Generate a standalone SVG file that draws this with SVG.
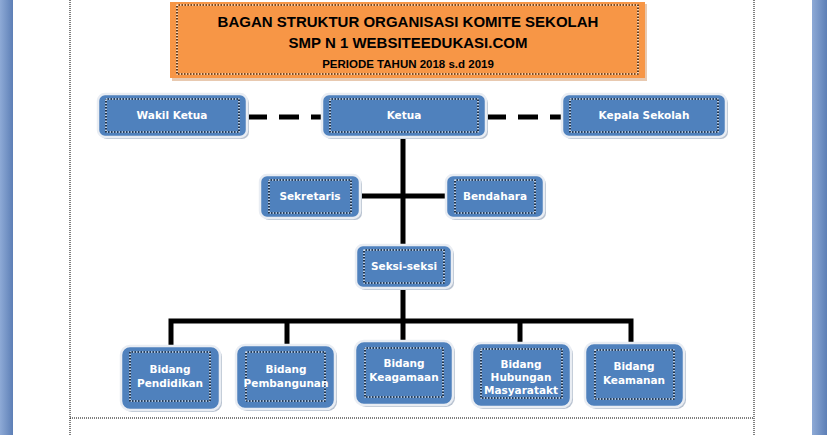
<svg xmlns="http://www.w3.org/2000/svg" width="827" height="435" viewBox="0 0 827 435">
<defs>
<linearGradient id="side" x1="0" x2="1" y1="0" y2="0"><stop offset="0" stop-color="#8eaad6"/><stop offset="1" stop-color="#5d7fb6"/></linearGradient>
</defs>
<style>
.n{fill:#4f81bd;stroke:#e9edf3;stroke-width:2.5}
.sh{fill:#b9c3d1}
.in{fill:none;stroke:#fff;stroke-width:1.2;stroke-dasharray:1.5 1.5}
.in2{fill:none;stroke:#000;stroke-width:1.2;stroke-dasharray:1.5 1.5;stroke-dashoffset:1.5}
.t{font-family:Verdana,"DejaVu Sans",sans-serif;font-weight:bold;font-size:10.5px;fill:#fff;text-anchor:middle}
.c{stroke:#000;stroke-width:5;fill:none}
.tt{font-family:"Liberation Sans",Arial,sans-serif;font-weight:bold;fill:#000;text-anchor:middle}
</style>
<rect width="827" height="435" fill="#fff"/>
<rect x="0" y="0" width="13" height="435" fill="url(#side)"/>
<rect x="812" y="0" width="15" height="435" fill="url(#side)"/>
<line x1="70" y1="0" x2="70" y2="435" stroke="#000" stroke-dasharray="1 1"/>
<line x1="754" y1="0" x2="754" y2="435" stroke="#000" stroke-dasharray="1 1"/>
<line x1="70" y1="418" x2="754" y2="418" stroke="#000" stroke-dasharray="1 1"/>
<g id="title">
<rect x="172" y="4" width="475" height="77" fill="#e8c9b0"/>
<rect x="170" y="2" width="475" height="76" fill="#f79646"/>
<rect x="177" y="5" width="461" height="69" class="in"/><rect x="177" y="5" width="461" height="69" class="in2"/>
<text x="408" y="27" class="tt" font-size="15">BAGAN STRUKTUR ORGANISASI KOMITE SEKOLAH</text>
<text x="408" y="48" class="tt" font-size="15">SMP N 1 WEBSITEEDUKASI.COM</text>
<text x="408" y="68" class="tt" font-size="11.5">PERIODE TAHUN 2018 s.d 2019</text>
</g>
<g id="connectors">
<path class="c" d="M247 117H322M486 117H562" stroke-dasharray="20 12"/>
<path class="c" d="M403 137V245M360 196H446M403 288V345M171 345V321H631V345M287 321V345M520 321V343"/>
</g>
<g id="wakil"><rect x="100" y="96" width="149" height="43" rx="7" class="sh"/><rect x="98" y="94" width="149" height="43" rx="7" class="n"/><rect x="106" y="99" width="133" height="33" class="in"/><rect x="106" y="99" width="133" height="33" class="in2"/><text x="172" y="119" class="t">Wakil Ketua</text></g>
<g id="ketua"><rect x="324" y="96" width="164" height="43" rx="7" class="sh"/><rect x="322" y="94" width="164" height="43" rx="7" class="n"/><rect x="330" y="99" width="148" height="33" class="in"/><rect x="330" y="99" width="148" height="33" class="in2"/><text x="404" y="119" class="t">Ketua</text></g>
<g id="kepala"><rect x="564" y="96" width="164" height="43" rx="7" class="sh"/><rect x="562" y="94" width="164" height="43" rx="7" class="n"/><rect x="570" y="99" width="148" height="33" class="in"/><rect x="570" y="99" width="148" height="33" class="in2"/><text x="644" y="119" class="t">Kepala Sekolah</text></g>
<g id="sekretaris"><rect x="262" y="177" width="100" height="43" rx="7" class="sh"/><rect x="260" y="175" width="100" height="43" rx="7" class="n"/><rect x="269" y="180" width="82" height="33" class="in"/><rect x="269" y="180" width="82" height="33" class="in2"/><text x="310" y="200" class="t">Sekretaris</text></g>
<g id="bendahara"><rect x="448" y="177" width="98" height="43" rx="7" class="sh"/><rect x="446" y="175" width="98" height="43" rx="7" class="n"/><rect x="455" y="180" width="80" height="33" class="in"/><rect x="455" y="180" width="80" height="33" class="in2"/><text x="495" y="200" class="t">Bendahara</text></g>
<g id="seksi"><rect x="358" y="247" width="96" height="43" rx="7" class="sh"/><rect x="356" y="245" width="96" height="43" rx="7" class="n"/><rect x="364" y="250" width="80" height="33" class="in"/><rect x="364" y="250" width="80" height="33" class="in2"/><text x="404" y="270" class="t">Seksi-seksi</text></g>
<g id="pendidikan"><rect x="123" y="348" width="99" height="64" rx="9" class="sh"/><rect x="121" y="346" width="99" height="64" rx="9" class="n"/><rect x="130" y="352" width="80" height="49" class="in"/><rect x="130" y="352" width="80" height="49" class="in2"/><text x="170" y="373" class="t">Bidang</text><text x="170" y="387" class="t">Pendidikan</text></g>
<g id="pembangunan"><rect x="238" y="347" width="99" height="64" rx="9" class="sh"/><rect x="236" y="345" width="99" height="64" rx="9" class="n"/><rect x="246" y="352" width="79" height="49" class="in"/><rect x="246" y="352" width="79" height="49" class="in2"/><text x="286" y="373" class="t">Bidang</text><text x="286" y="387" class="t">Pembangunan</text></g>
<g id="keagamaan"><rect x="357" y="343" width="98" height="64" rx="9" class="sh"/><rect x="355" y="341" width="98" height="64" rx="9" class="n"/><rect x="365" y="348" width="78" height="49" class="in"/><rect x="365" y="348" width="78" height="49" class="in2"/><text x="404" y="367" class="t">Bidang</text><text x="404" y="381" class="t">Keagamaan</text></g>
<g id="hubungan"><rect x="474" y="345" width="99" height="64" rx="9" class="sh"/><rect x="472" y="343" width="99" height="64" rx="9" class="n"/><rect x="481" y="349" width="81" height="49" class="in"/><rect x="481" y="349" width="81" height="49" class="in2"/><text x="521" y="368" class="t">Bidang</text><text x="521" y="381" class="t">Hubungan</text><text x="521" y="394" class="t">Masyaratakt</text></g>
<g id="keamanan"><rect x="587" y="345" width="99" height="64" rx="9" class="sh"/><rect x="585" y="343" width="99" height="64" rx="9" class="n"/><rect x="595" y="350" width="79" height="49" class="in"/><rect x="595" y="350" width="79" height="49" class="in2"/><text x="634" y="370" class="t">Bidang</text><text x="634" y="384" class="t">Keamanan</text></g>
</svg>
